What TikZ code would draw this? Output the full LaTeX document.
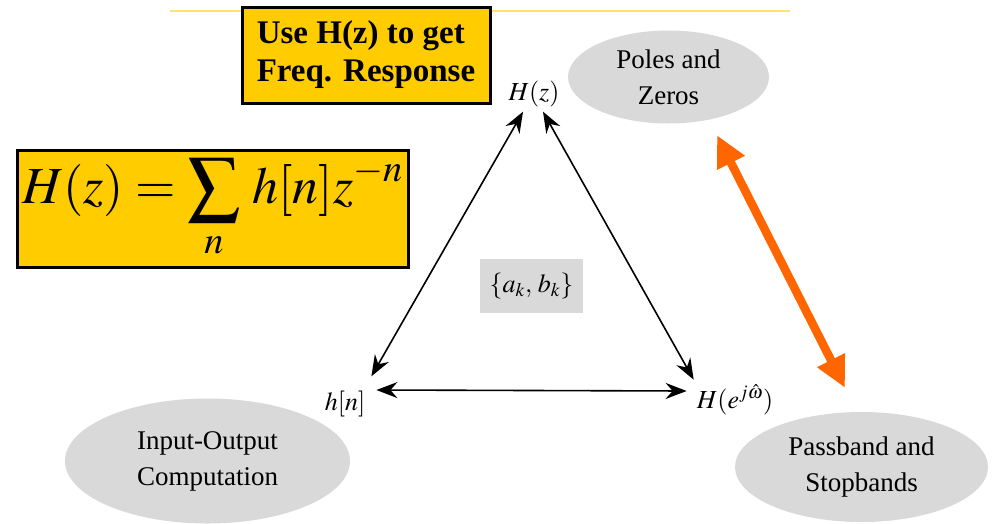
\documentclass[tikz,border=0pt]{standalone}
\usepackage{amsmath}
\usepackage{mathptmx}
\usepackage{fontspec}
\setmainfont{Liberation Serif}
\usepackage{xcolor}
\usepackage{tikz}
\usetikzlibrary{arrows.meta,shapes.geometric}

\definecolor{boxyellow}{HTML}{FFCC00}
\definecolor{blobgray}{HTML}{D9D9D9}
\definecolor{arrorange}{HTML}{FF6600}

\begin{document}
\begin{tikzpicture}[x=1pt, y=-1pt,
    >={Stealth[length=21pt,width=16pt,inset=7pt]},
    yellowbox/.style={draw=black, line width=3pt, fill=boxyellow, inner sep=0pt},
    blob/.style={ellipse, fill=blobgray, align=center, inner sep=0pt,
                 font=\fontsize{27}{36}\selectfont},
    lbl/.style={anchor=base, inner sep=3pt, font=\fontsize{26}{30}\selectfont}
  ]
  \useasboundingbox (0,0) rectangle (993,523);

  % faded header streak
  \draw[boxyellow, line width=2.5pt, opacity=0.55] (170,11) -- (790,11);

  % yellow boxes
  \node[yellowbox, minimum width=248pt, minimum height=96pt, align=left,
        font=\bfseries\fontsize{33}{38}\selectfont] (usebox) at (366,55)
        {Use H(z) to get\\Freq. Response};
  \node[yellowbox, minimum width=391pt, minimum height=117pt] (sumbox) at (212.5,208.5)
        {\fontsize{52}{60}\selectfont$\displaystyle H(z)=\sum_{n}\, h[n]z^{-n}$};

  % triangle corners
  \node[lbl] (Hz) at (534,100) {$H(z)$};
  \node[lbl] (hn) at (345,410) {$h[n]$};
  \node[lbl] (Hw) at (735,408) {$H(e^{j\hat{\omega}})$};
  \node[fill=blobgray, minimum width=103pt, minimum height=54pt,
        font=\fontsize{26}{30}\selectfont] (ab) at (531.5,286) {$\{a_k,\, b_k\}$};

  % gray ellipses
  \node[blob, minimum width=201pt, minimum height=93pt] (pz) at (668.5,77) {Poles and\\Zeros};
  \node[blob, minimum width=285pt, minimum height=125pt] (io) at (207.5,461) {Input-Output\\Computation};
  \node[blob, minimum width=253pt, minimum height=110pt] (pb) at (861.5,467) {Passband and\\Stopbands};

  % connectors
  \draw[<->, line width=1.6pt] ([shift={(3pt,11pt)}]hn.north east) -- ([shift={(-11pt,-2pt)}]Hz.south);
  \draw[<->, line width=1.6pt] ([shift={(9pt,-2pt)}]Hz.south) -- ([shift={(0pt,2pt)}]Hw.north west);
  \draw[<->, line width=1.6pt] ([shift={(8pt,20pt)}]hn.base east) -- ([shift={(-7pt,17pt)}]Hw.base west);
  \draw[{Triangle[length=31pt,width=29pt]}-{Triangle[length=31pt,width=29pt]},
        arrorange, line width=8.5pt]
        ([shift={(48.5pt,-11.5pt)}]pz.south) -- ([shift={(-16.5pt,24pt)}]pb.north);
\end{tikzpicture}
\end{document}
